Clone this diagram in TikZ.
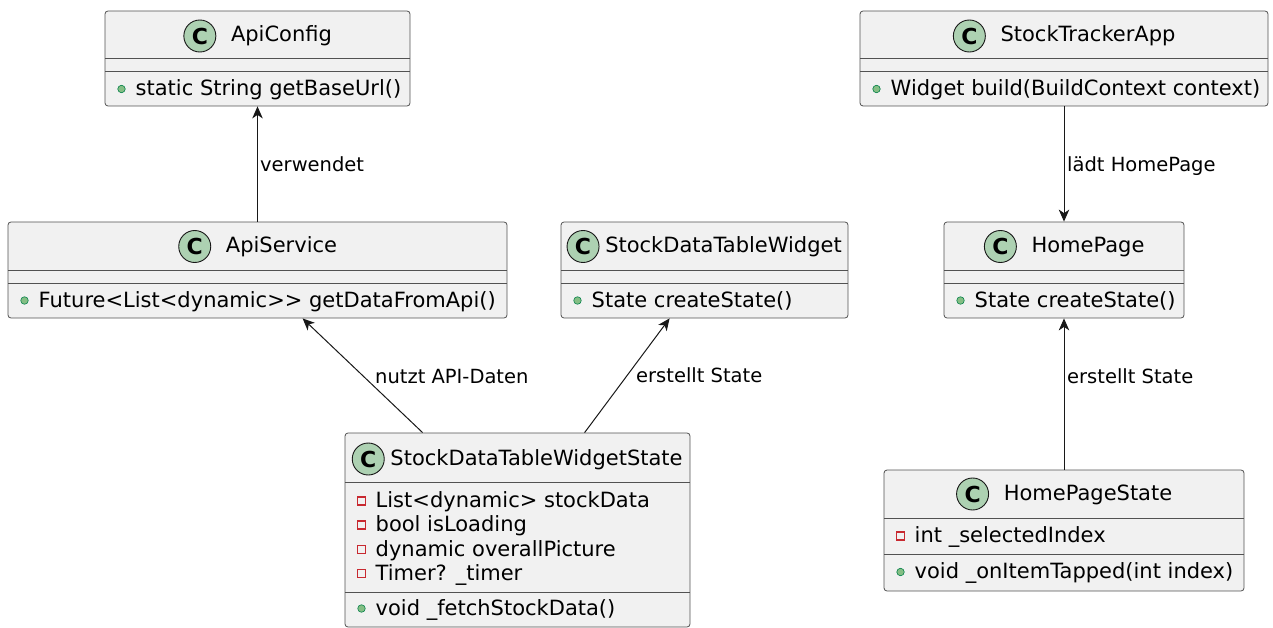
\documentclass[tikz,border=0pt]{standalone}
\usepackage{fontspec}
\setmainfont{DejaVu Sans}
\usetikzlibrary{arrows.meta}
\definecolor{boxfill}{HTML}{F1F1F1}
\definecolor{boxline}{HTML}{181818}
\definecolor{spotfill}{HTML}{ADD1B2}
\definecolor{pubfill}{HTML}{84BE84}
\definecolor{publine}{HTML}{038048}
\definecolor{privline}{HTML}{C82930}
\tikzset{
  cls/.style={rectangle, rounded corners=3pt, draw=boxline!75, line width=0.8pt, fill=boxfill, inner sep=0pt},
  sepline/.style={draw=boxline!75, line width=0.8pt},
  hdrtext/.style={inner sep=0pt, anchor=base, font=\fontsize{21}{25}\selectfont},
  memtext/.style={inner sep=0pt, anchor=base west, font=\fontsize{21}{25}\selectfont},
  spot/.style={circle, draw=boxline, line width=0.9pt, fill=spotfill, minimum size=32pt, inner sep=0pt, font=\fontsize{22}{22}\selectfont\bfseries},
  pubicon/.style={circle, draw=publine, line width=0.6pt, fill=pubfill, minimum size=7.5pt, inner sep=0pt},
  privicon/.style={rectangle, draw=privline, line width=1.1pt, fill=boxfill, minimum size=8pt, inner sep=0pt},
  lbl/.style={inner sep=0pt, anchor=base west, font=\fontsize{19.5}{23}\selectfont},
  arr/.style={draw=boxline, line width=1pt, -{Stealth[length=12pt,width=10.5pt,inset=3.5pt]}}
}
\newcommand{\hdr}[5]{%
  \node[hdrtext] (#1T) at (#2,#3) {#4};
  \node[spot] (#1S) at ([xshift=-#5pt, yshift=6pt]#1T.base west) {C};}
\newcommand{\pubrow}[4]{%
  \node[memtext] (#1) at (#2+30.5,#3) {#4};
  \node[pubicon] (#1I) at (#2+16.5,#3-6.5) {};}
\newcommand{\privrow}[4]{%
  \node[memtext] (#1) at (#2+30.5,#3) {#4};
  \node[privicon] (#1I) at (#2+16.5,#3-6.5) {};}
\begin{document}
\begin{tikzpicture}[x=1pt, y=-1pt]
\useasboundingbox (0,0) rectangle (1273,628);

% ApiConfig
\node[cls, minimum width=305pt, minimum height=95pt] (apicfg) at (257.5,58.5) {};
\draw[sepline] (105,58) -- (410,58);
\draw[sepline] (105,71) -- (410,71);
\hdr{apicfg}{281.5}{42}{ApiConfig}{31}
\pubrow{apicfgM}{105}{95.5}{static String getBaseUrl()}

% StockTrackerApp
\node[cls, minimum width=408pt, minimum height=95pt] (sta) at (1064,58.5) {};
\draw[sepline] (860,58) -- (1268,58);
\draw[sepline] (860,71) -- (1268,71);
\hdr{sta}{1088}{42}{StockTrackerApp}{31}
\pubrow{staM}{860}{95.5}{Widget build(BuildContext context)}

% ApiService
\node[cls, minimum width=499pt, minimum height=96pt] (apisvc) at (257.5,270) {};
\draw[sepline] (8,270) -- (507,270);
\draw[sepline] (8,283) -- (507,283);
\hdr{apisvc}{281.5}{252.5}{ApiService}{31}
\pubrow{apisvcM}{8}{307}{Future<List<dynamic>{}> getDataFromApi()}

% StockDataTableWidget
\node[cls, minimum width=287pt, minimum height=96pt] (sdtw) at (704.5,270) {};
\draw[sepline] (561,270) -- (848,270);
\draw[sepline] (561,283) -- (848,283);
\hdr{sdtw}{723.5}{252.5}{StockDataTableWidget}{22}
\pubrow{sdtwM}{561}{307}{State createState()}

% HomePage
\node[cls, minimum width=240pt, minimum height=96pt] (hp) at (1064,270) {};
\draw[sepline] (944,270) -- (1184,270);
\draw[sepline] (944,283) -- (1184,283);
\hdr{hp}{1088}{252.5}{HomePage}{31}
\pubrow{hpM}{944}{307}{State createState()}

% StockDataTableWidgetState
\node[cls, minimum width=345pt, minimum height=194pt] (sdtws) at (517.5,530) {};
\draw[sepline] (345,482) -- (690,482);
\draw[sepline] (345,592) -- (690,592);
\hdr{sdtws}{536.5}{465}{StockDataTableWidgetState}{22}
\privrow{sdtwsA}{345}{507.5}{List<dynamic> stockData}
\privrow{sdtwsB}{345}{531.5}{bool isLoading}
\privrow{sdtwsC}{345}{556}{dynamic overallPicture}
\privrow{sdtwsD}{345}{580}{Timer? \_timer}
\pubrow{sdtwsM}{345}{615}{void \_fetchStockData()}

% HomePageState
\node[cls, minimum width=360pt, minimum height=121pt] (hps) at (1064,530.5) {};
\draw[sepline] (884,518) -- (1244,518);
\draw[sepline] (884,554) -- (1244,554);
\hdr{hps}{1088}{500}{HomePageState}{31}
\privrow{hpsA}{884}{542.5}{int \_selectedIndex}
\pubrow{hpsM}{884}{578.5}{void \_onItemTapped(int index)}

% connectors
\draw[arr] (apisvc) -- (apicfg);
\draw[arr] (sta) -- (hp);
\draw[arr] (hps) -- (hp);
\draw[arr] ([xshift=78pt]sdtws.north west) -- ([xshift=295pt]apisvc.south west);
\draw[arr] ([xshift=240pt]sdtws.north west) -- ([xshift=109pt]sdtw.south west);

% labels
\node[lbl] (l1) at (260,171.5) {verwendet};
\node[lbl] (l2) at (1067,172) {lädt HomePage};
\node[lbl] (l3) at (375,383) {nutzt API-Daten};
\node[lbl] (l4) at (636,382) {erstellt State};
\node[lbl] (l5) at (1067,383) {erstellt State};
\end{tikzpicture}
\end{document}
